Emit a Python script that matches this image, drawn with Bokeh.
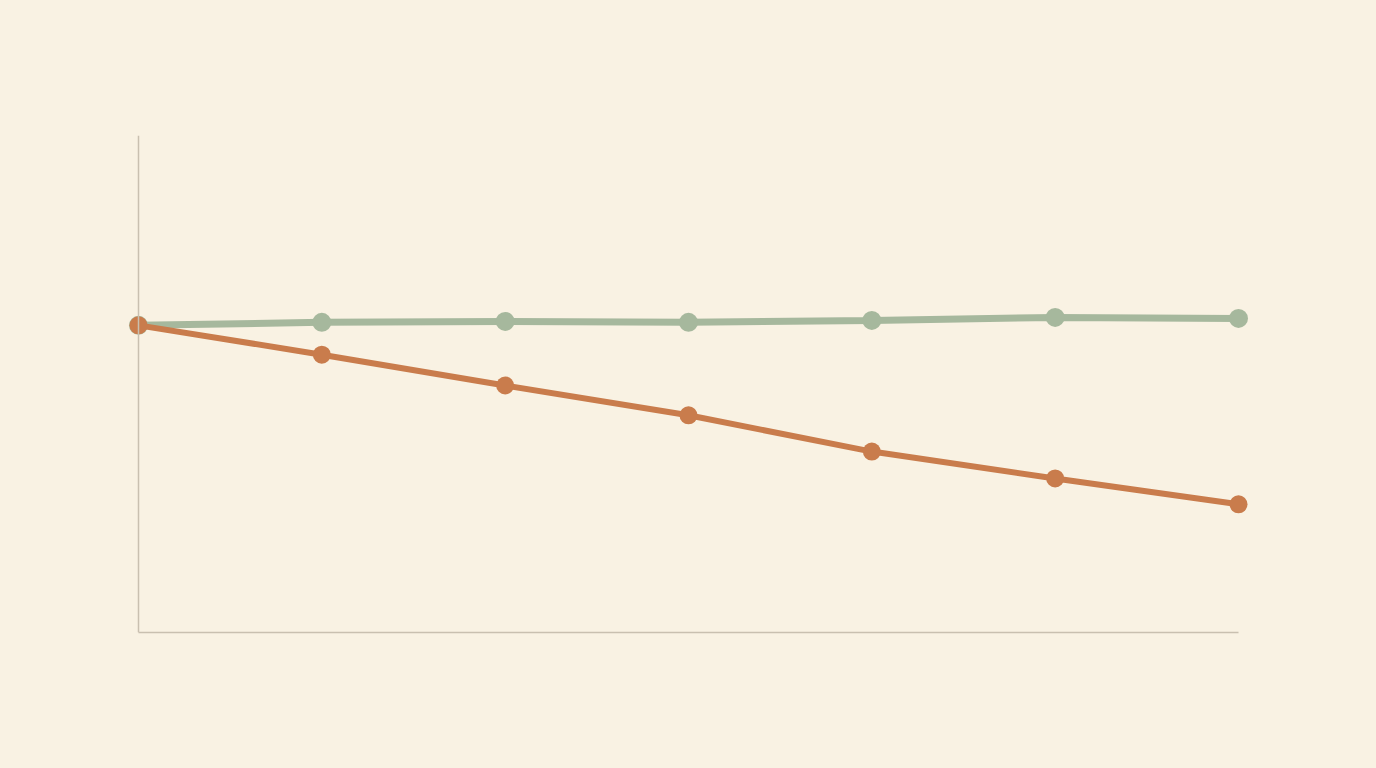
from bokeh.plotting import figure
from bokeh.models import Range1d, LinearAxis, FixedTicker, ColumnDataSource
from bokeh.embed import file_html
from bokeh.resources import INLINE

# Data (index, 0-100 scale)
periods = [0, 1, 2, 3, 4, 5, 6]
series_green = [61.8, 62.4, 62.6, 62.4, 62.8, 63.4, 63.2]
series_orange = [61.8, 55.9, 49.7, 43.7, 36.4, 31.0, 25.8]

BG = "#f9f2e3"
GREEN = "#a6b89d"
ORANGE = "#c97c4c"
AXIS = "#c9c0b0"

p = figure(width=1376, height=768, output_backend="svg", toolbar_location=None,
           x_range=Range1d(-0.12, 6.12), y_range=Range1d(0, 100),
           x_axis_type=None, y_axis_type=None,
           min_border_left=116, min_border_right=116,
           min_border_top=135, min_border_bottom=136)
p.background_fill_alpha = 0
p.border_fill_color = BG
p.outline_line_color = None
p.xgrid.visible = False
p.ygrid.visible = False

xa = LinearAxis(ticker=FixedTicker(ticks=[]), bounds=(0, 6),
                axis_line_color=AXIS, axis_line_width=1.5,
                major_tick_line_color=None, minor_tick_line_color=None)
ya = LinearAxis(ticker=FixedTicker(ticks=[]), bounds=(0, 100), fixed_location=0,
                axis_line_color=AXIS, axis_line_width=1.5,
                major_tick_line_color=None, minor_tick_line_color=None)
p.add_layout(xa, "below")
p.add_layout(ya, "left")

src_g = ColumnDataSource(dict(x=periods, y=series_green))
src_o = ColumnDataSource(dict(x=periods, y=series_orange))

p.line("x", "y", source=src_g, line_color=GREEN, line_width=7, line_cap="round")
p.scatter("x", "y", source=src_g, size=19, fill_color=GREEN, line_color=None)
p.line("x", "y", source=src_o, line_color=ORANGE, line_width=6, line_cap="round")
p.scatter("x", "y", source=src_o, size=18, fill_color=ORANGE, line_color=None)

html = file_html(p, INLINE)
html = html.replace("</head>", "<style>html, body { background: %s; overflow: hidden; }</style></head>" % BG, 1)
open("out.html", "w").write(html)
